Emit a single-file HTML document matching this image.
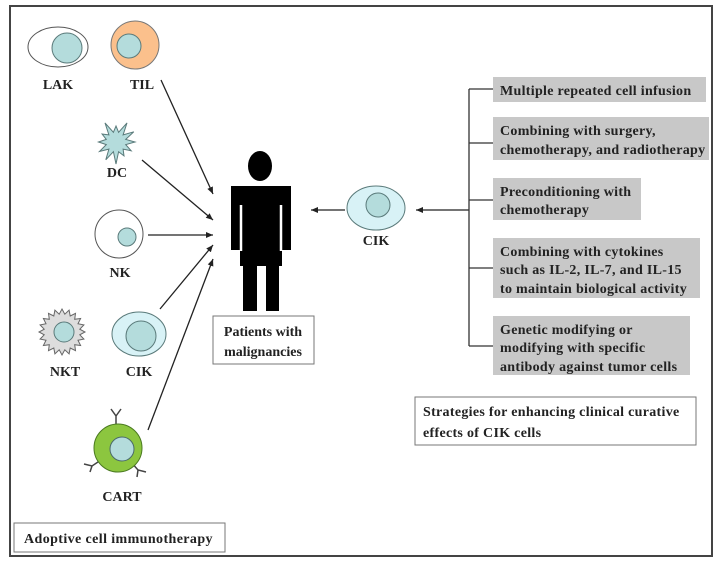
<!DOCTYPE html>
<html><head><meta charset="utf-8"><style>
body{margin:0;background:#fff}
svg{display:block}
text{font-family:"Liberation Serif",serif;font-weight:bold;fill:#222}
</style></head><body>
<svg id="s" width="721" height="564" viewBox="0 0 721 564" xmlns="http://www.w3.org/2000/svg">
<defs><marker id="a" markerWidth="8" markerHeight="8" refX="7" refY="4" orient="auto" markerUnits="userSpaceOnUse"><path d="M0,1 L7,4 L0,7 z" fill="#222"/></marker></defs>
<rect x="10" y="6" width="702" height="550" fill="#fff" stroke="#444" stroke-width="2"/>
<!-- LAK -->
<ellipse cx="58" cy="47" rx="30" ry="20" fill="#fff" stroke="#555"/>
<circle cx="67" cy="48" r="15" fill="#b4dcdc" stroke="#5a7a7a"/>
<text x="58" y="89" font-size="14" text-anchor="middle">LAK</text>
<!-- TIL -->
<circle cx="135" cy="45" r="24" fill="#fbc08c" stroke="#777"/>
<circle cx="129" cy="46" r="12" fill="#b4dcdc" stroke="#5a7a7a"/>
<text x="142" y="89" font-size="14" text-anchor="middle">TIL</text>
<!-- DC -->
<polygon id="dc" fill="#b4dcdc" stroke="#5a7a7a"/>
<text x="117" y="177" font-size="14" text-anchor="middle">DC</text>
<!-- NK -->
<circle cx="119" cy="234" r="24" fill="#fff" stroke="#555"/>
<circle cx="127" cy="237" r="9" fill="#b4dcdc" stroke="#5a7a7a"/>
<text x="120" y="277" font-size="14" text-anchor="middle">NK</text>
<!-- NKT -->
<polygon id="nkt" fill="#ddd" stroke="#666"/>
<circle cx="64" cy="332" r="10" fill="#b4dcdc" stroke="#5a7a7a"/>
<text x="65" y="376" font-size="14" text-anchor="middle">NKT</text>
<!-- CIK left -->
<ellipse cx="139" cy="334" rx="27" ry="22" fill="#d8f2f6" stroke="#5a7a7a"/>
<circle cx="141" cy="336" r="15" fill="#b4dcdc" stroke="#5a7a7a"/>
<text x="139" y="376" font-size="14" text-anchor="middle">CIK</text>
<!-- CART -->
<g stroke="#444" stroke-width="1.5" fill="none">
<path d="M116,426 v-10 l-5,-7 M116,416 l5,-7"/>
<path d="M101,460 l-9,6 l-8,-2 M92,466 l-2,6"/>
<path d="M131,462 l7,8 l8,2 M138,470 l-1,7"/>
</g>
<circle cx="118" cy="448" r="24" fill="#8cc63f" stroke="#4a7a20"/>
<circle cx="122" cy="449" r="12" fill="#b4dcdc" stroke="#4a6a6a"/>
<text x="122" y="501" font-size="14" text-anchor="middle">CART</text>
<rect x="14" y="523" width="211" height="29" fill="#fff" stroke="#777"/>
<text x="24" y="543" font-size="14" letter-spacing="0.4">Adoptive  cell  immunotherapy</text>
<!-- arrows -->
<g stroke="#222" stroke-width="1.3" marker-end="url(#a)">
<line x1="161" y1="80" x2="213" y2="194"/>
<line x1="142" y1="160" x2="213" y2="220"/>
<line x1="148" y1="235" x2="213" y2="235"/>
<line x1="160" y1="309" x2="213" y2="245"/>
<line x1="148" y1="430" x2="213" y2="259"/>
<line x1="345" y1="210" x2="311" y2="210"/>
<line x1="469" y1="210" x2="416" y2="210"/>
</g>
<!-- person -->
<ellipse cx="260" cy="166" rx="12" ry="15" fill="#000"/>
<path d="M231,186 H291 V250 H282 V266 H279 V311 H266 V266 H257 V311 H243 V266 H240 V250 H231 Z" fill="#000"/>
<path d="M241,205 V251 M281,205 V251" stroke="#fff" stroke-width="2.5"/>
<rect x="213" y="316" width="101" height="48" fill="#fff" stroke="#777"/>
<text x="263" y="336" font-size="14" text-anchor="middle">Patients with</text>
<text x="263" y="356" font-size="14" text-anchor="middle">malignancies</text>
<!-- CIK right -->
<ellipse cx="376" cy="208" rx="29" ry="22" fill="#d8f2f6" stroke="#5a7a7a"/>
<circle cx="378" cy="205" r="12" fill="#b4dcdc" stroke="#5a7a7a"/>
<text x="376" y="245" font-size="14" text-anchor="middle">CIK</text>
<!-- bracket -->
<g stroke="#333" stroke-width="1.3" fill="none">
<path d="M469,89 V346 M469,89 H493 M469,143 H493 M469,200 H493 M469,268 H493 M469,346 H493"/>
</g>
<g fill="#c8c8c8">
<rect x="493" y="77" width="213" height="25"/>
<rect x="493" y="117" width="216" height="43"/>
<rect x="493" y="178" width="148" height="42"/>
<rect x="493" y="238" width="207" height="60"/>
<rect x="493" y="316" width="197" height="59"/>
</g>
<g font-size="14" letter-spacing="0.3">
<text x="500" y="95">Multiple repeated cell infusion</text>
<text x="500" y="135">Combining with surgery,</text>
<text x="500" y="154">chemotherapy, and radiotherapy</text>
<text x="500" y="196">Preconditioning with</text>
<text x="500" y="214">chemotherapy</text>
<text x="500" y="256">Combining with cytokines</text>
<text x="500" y="274">such as IL-2, IL-7, and IL-15</text>
<text x="500" y="293">to maintain biological activity</text>
<text x="500" y="334">Genetic modifying or</text>
<text x="500" y="352">modifying with specific</text>
<text x="500" y="371">antibody against tumor cells</text>
</g>
<rect x="415" y="397" width="281" height="48" fill="#fff" stroke="#777"/>
<g font-size="14" letter-spacing="0.3">
<text x="423" y="416">Strategies for enhancing clinical curative</text>
<text x="423" y="437">effects of CIK cells</text>
</g>
</svg>
<script>
function star(id,cx,cy,n,ro,ri,jit){var p=[];for(var i=0;i<2*n;i++){var r=i%2?ri:ro*(jit?(0.8+0.3*((i*7)%5)/4):1);var a=Math.PI*i/n-Math.PI/2;p.push((cx+r*Math.cos(a)).toFixed(1)+","+(cy+r*Math.sin(a)).toFixed(1));}document.getElementById(id).setAttribute("points",p.join(" "));}
star("dc",116,142,12,20,10,true);
star("nkt",62,332,20,23,18,false);
</script>
</body></html>
